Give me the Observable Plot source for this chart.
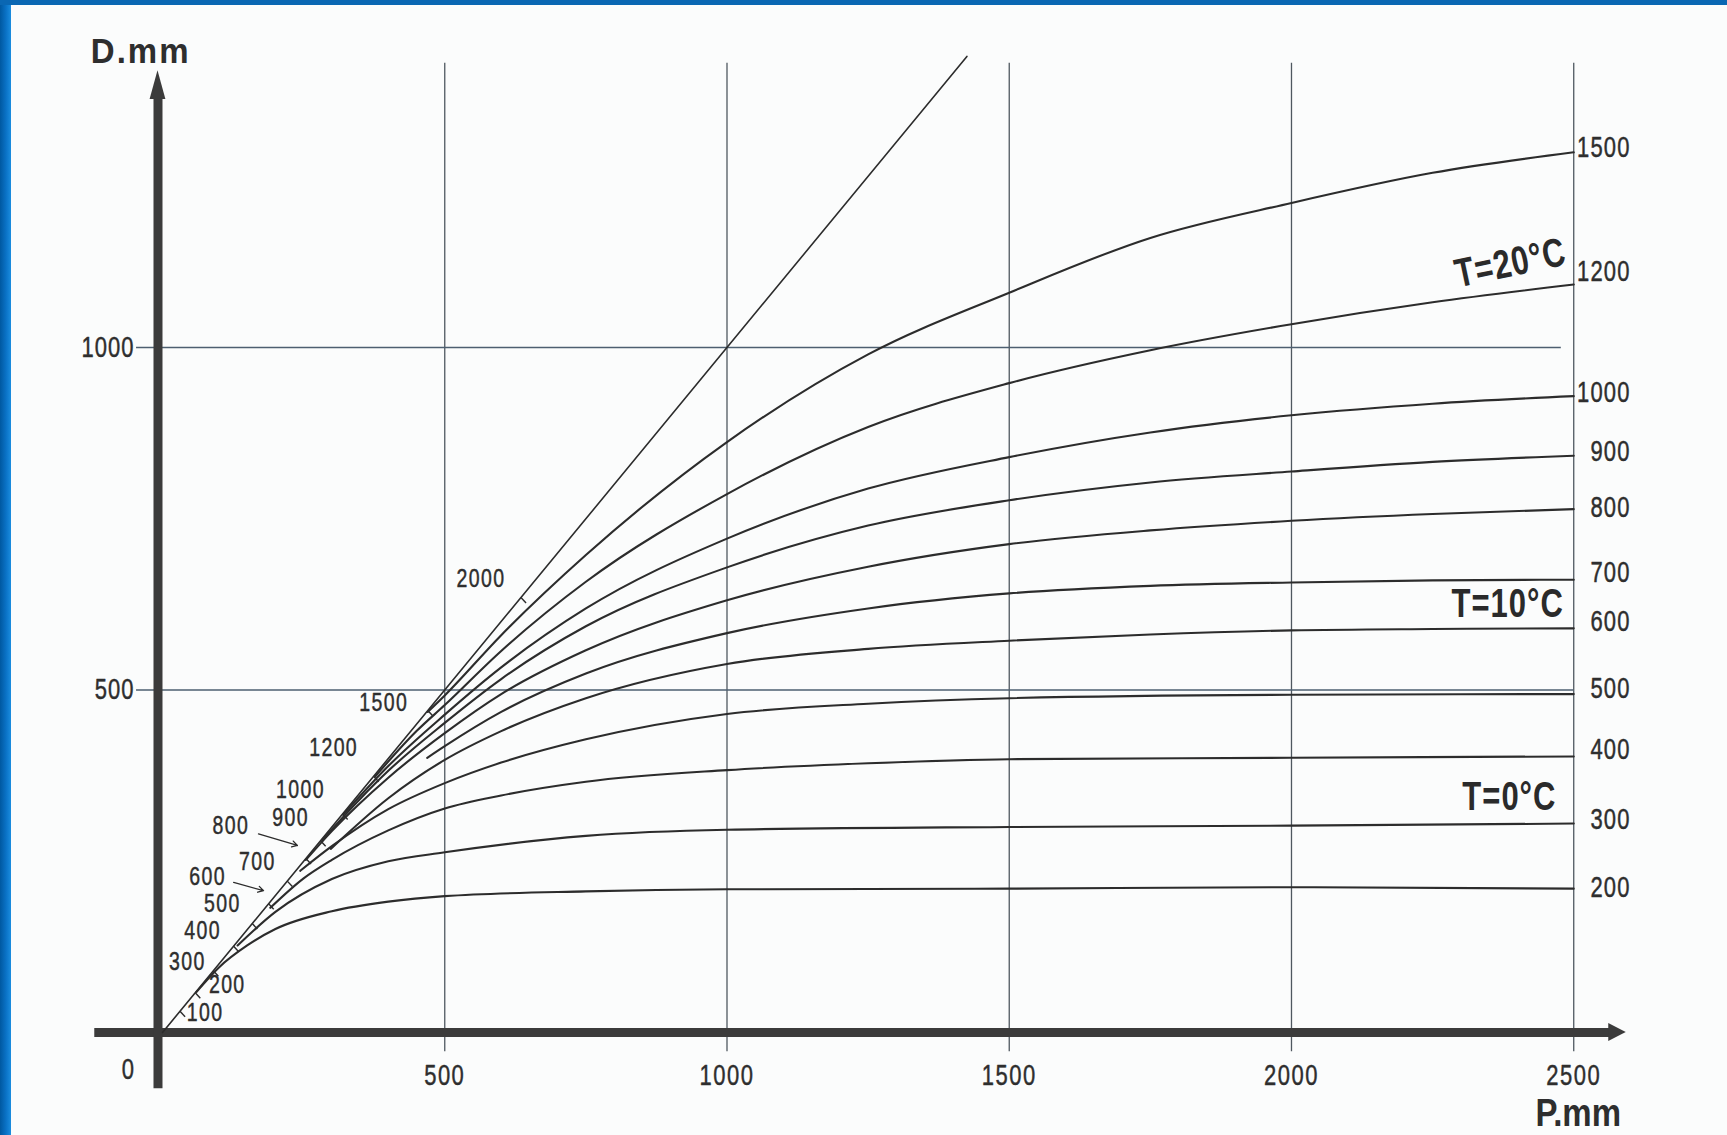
<!DOCTYPE html>
<html>
<head>
<meta charset="utf-8">
<script src="https://cdn.jsdelivr.net/npm/d3@7"></script>
<script src="https://cdn.jsdelivr.net/npm/@observablehq/plot@0.6"></script>
<style>
  html, body { margin: 0; padding: 0; background: #fbfcfc; }
  #wrap { position: relative; width: 1727px; height: 1135px; overflow: hidden; background: #fbfcfc; }
  #wrap svg { position: absolute; left: 0; top: 0; background: transparent; }
  #bl { position: absolute; left: 0; top: 0; width: 11px; height: 1135px; background: linear-gradient(to right, #0058a0, #0a72c6 55%, #1b8ddf); z-index: 2; }
  #bt { position: absolute; left: 0; top: 0; width: 1727px; height: 5px; background: #0a67b3; z-index: 2; }
</style>
</head>
<body>
<div id="wrap"><div id="bl"></div><div id="bt"></div></div>
<script>
// ---------- data ----------
const curveLabels = [200, 300, 400, 500, 600, 700, 800, 900, 1000, 1200, 1500];

const p200 = [60, 100, 150, 200, 300, 400, 500, 750, 1000, 1500, 2000, 2500];
const d200 = [59, 95, 127, 151, 177, 191, 199, 206, 209, 210, 212, 210];

const p300 = [133, 200, 300, 400, 500, 750, 1000, 1500, 2000, 2500];
const d300 = [127, 176, 224, 250, 263, 287, 296, 300, 302, 305];

const p400 = [191, 250, 300, 400, 500, 600, 750, 1000, 1250, 1500, 2000, 2500];
const d400 = [182, 225, 252, 295, 327, 346, 366, 383, 393, 399, 401, 403];

const p500 = [244, 300, 400, 500, 600, 750, 1000, 1250, 1500, 2000, 2500];
const d500 = [236, 272, 326, 364, 394, 428, 465, 480, 488, 493, 494];

const p600 = [298, 400, 500, 600, 750, 1000, 1250, 1500, 1750, 2000, 2250, 2500];
const d600 = [268, 342, 398, 440, 488, 538, 560, 572, 581, 587, 589, 590];

const p700 = [469, 500, 600, 750, 1000, 1250, 1500, 1750, 2000, 2250, 2500];
const d700 = [401, 418, 468, 524, 583, 619, 641, 652, 657, 660, 661];

const p800 = [254, 300, 400, 500, 600, 750, 1000, 1250, 1500, 1750, 2000, 2250, 2500];
const d800 = [252, 294, 372, 437, 494, 558, 631, 680, 713, 733, 747, 757, 764];

const p900 = [283, 350, 400, 500, 600, 750, 1000, 1250, 1500, 1750, 2000, 2250, 2500];
const d900 = [281, 341, 382, 452, 516, 593, 679, 740, 777, 803, 819, 833, 842];

const p1000 = [320, 400, 500, 600, 750, 1000, 1250, 1500, 1750, 2000, 2250, 2500];
const d1000 = [318, 389, 464, 533, 619, 721, 794, 840, 876, 901, 918, 929];

const p1200 = [377, 450, 500, 600, 750, 1000, 1250, 1500, 1750, 2000, 2250, 2500];
const d1200 = [374, 440, 478, 557, 658, 786, 884, 948, 996, 1034, 1066, 1092];

const p1500 = [470, 500, 600, 750, 1000, 1250, 1500, 1750, 2000, 2250, 2500];
const d1500 = [468, 492, 580, 697, 862, 990, 1080, 1160, 1211, 1255, 1285];

const diagonalP = [0, 1425];                       // D = P line
const diagTickLabels = ["100", "200", "300", "400", "500", "600", "700", "800", "900", "1000", "1200", "1500", "2000"];
const diagTickP = [31, 58, 90, 126, 159, 188, 221, 254, 280, 319, 374, 470, 635];

const xTickValues = [0, 500, 1000, 1500, 2000, 2500];
const yTickValues = [500, 1000];
const tempLabels = ["T=20°C", "T=10°C", "T=0°C"];
const xTitle = "P.mm";
const yTitle = "D.mm";

// ---------- layout (pixels / extents) ----------
const W = 1727, H = 1135;
const xDomain = [-287, 2772.4], yDomain = [-150.4, 1506.6];
const kx = W / (xDomain[1] - xDomain[0]);   // px per mm (x)
const ky = H / (yDomain[1] - yDomain[0]);   // px per mm (y)
const px2x = (dx) => dx / kx;
const px2y = (dy) => -dy / ky;

const curveEndLabelShift = [1, 6, 10, 8, 9, 10, 2, 5, 5, 19, 7];     // in mm, per curve label
const diagLabelOffsetPx = [[25, 2], [32, -8], [-26, -9], [-31, -15], [-30, -20], [-61, -27], [-30, -19],
                           [-75, -33], [-30, -23], [-42, -24], [-40, -28], [-44, -8], [-40, -19]];
const leaderIdx = [5, 7];  // "600" and "800" have small arrows
const leaderOffsets = [[-62, 31, -9, 19], [-84, 36, -15, 19]];
const tempPos = [[2388, 1123, -12], [2383, 625, 0], [2386, 343, 0]];

// ---------- build tables ----------
const curveP = [p200, p300, p400, p500, p600, p700, p800, p900, p1000, p1200, p1500];
const curveD = [d200, d300, d400, d500, d600, d700, d800, d900, d1000, d1200, d1500];
const curveRows = curveLabels.flatMap((L, i) => curveP[i].map((p, j) => ({L, P: p, D: curveD[i][j]})));
const endRows = curveLabels.map((L, i) => ({L, P: curveP[i][curveP[i].length - 1], D: curveD[i][curveD[i].length - 1] + curveEndLabelShift[i]}));
const diagRows = diagonalP.map(p => ({P: p, D: p}));
const tickRows = diagTickP.map((p, i) => ({p, label: diagTickLabels[i],
  lx: p + px2x(diagLabelOffsetPx[i][0]), ly: p + px2y(diagLabelOffsetPx[i][1])}));
const leaderRows = leaderIdx.map((k, i) => {
  const p = diagTickP[k], o = leaderOffsets[i];
  return {x1: p + o[0], y1: p + o[1], x2: p + o[2], y2: p + o[3]};
});
const tempRows = tempLabels.map((t, i) => ({t, x: tempPos[i][0], y: tempPos[i][1], r: tempPos[i][2]}));
const xLabelRows = xTickValues.map(v => ({v, x: v === 0 ? -60 : v, y: v === 0 ? -55 : -64}));

const ink = "#2c2c2c", grid = "#4f5860", txt = "#2e2e2e";
const FF = "Liberation Sans, Arial, sans-serif";
const numFont = {fontFamily: FF, fontSize: 22, fill: txt, stroke: txt, strokeWidth: 0.35};

const svg = Plot.plot({
  width: W, height: H,
  marginTop: 0, marginRight: 0, marginBottom: 0, marginLeft: 0,
  x: {domain: xDomain, axis: null},
  y: {domain: yDomain, axis: null},
  style: {background: "transparent"},
  marks: [
    // grid
    Plot.ruleX(xTickValues.filter(v => v > 0), {y1: -28, y2: 1415, stroke: grid, strokeWidth: 1.3}),
    Plot.ruleY(yTickValues, {x1: -46, x2: (d) => d === 1000 ? 2478 : 2500, stroke: "#4d5f70", strokeWidth: 1.3}),
    // axes
    Plot.ruleY([0], {x1: -120, x2: 2570, stroke: "#3b3b3b", strokeWidth: 9}),
    Plot.ruleX([-8], {y1: -82, y2: 1372, stroke: "#3b3b3b", strokeWidth: 9}),
    Plot.areaY([{x: 2562, a: -13, b: 13}, {x: 2593, a: 0, b: 0}], {x: "x", y1: "a", y2: "b", fill: "#3b3b3b"}),
    Plot.areaX([{y: 1362, a: -8 - 14, b: -8 + 14}, {y: 1404, a: -8, b: -8}], {y: "y", x1: "a", x2: "b", fill: "#3b3b3b"}),
    // diagonal D = P
    Plot.line(diagRows, {x: "P", y: "D", stroke: ink, strokeWidth: 1.6}),
    Plot.link(tickRows, {x1: "p", y1: "p", x2: (d) => d.p + 9, y2: (d) => d.p - 8, stroke: ink, strokeWidth: 1.4}),
    Plot.arrow(leaderRows, {x1: "x1", y1: "y1", x2: "x2", y2: "y2", stroke: ink, strokeWidth: 1.3, headLength: 7}),
    // curves
    Plot.line(curveRows, {x: "P", y: "D", z: "L", curve: "monotone-x", stroke: ink, strokeWidth: 2.1}),
    // labels
    Plot.text(tickRows, {x: "lx", y: "ly", text: "label", ...numFont, fontSize: 19.5, ariaDescription: "diaglabels"}),
    Plot.text(endRows, {x: "P", y: "D", text: (d) => String(d.L), textAnchor: "end", dx: 57, ...numFont, ariaDescription: "endlabels"}),
    Plot.text(yTickValues, {x: -46, y: (d) => d, text: (d) => String(d), textAnchor: "end", dx: -2, ...numFont, ariaDescription: "ylabels"}),
    Plot.text(xLabelRows, {x: "x", y: "y", text: (d) => String(d.v), ...numFont, ariaDescription: "xlabels"}),
    Plot.text(tempRows, {x: "x", y: "y", text: "t", rotate: (d) => d.r, fontFamily: FF, fontWeight: "bold", fontSize: 31, fill: "#2a2a2a", ariaDescription: "templabels"}),
    Plot.text([yTitle], {x: -127, y: 1431, text: (d) => d, textAnchor: "start", fontFamily: FF, fontWeight: "bold", fontSize: 33, fill: "#2e2e2e", ariaDescription: "ytitle"}),
    Plot.text([xTitle], {x: 2508, y: -118, text: (d) => d, fontFamily: FF, fontWeight: "bold", fontSize: 33, fill: "#2e2e2e", ariaDescription: "xtitle"})
  ]
});

// vertical stretch of the scanned lettering
function stretch(label, sx, sy, ls) {
  svg.querySelectorAll(`g[aria-description="${label}"] text`).forEach(t => {
    let tr = t.getAttribute("transform");
    if (!tr) {
      const x = t.getAttribute("x") || 0, y = t.getAttribute("y") || 0;
      t.removeAttribute("x"); t.removeAttribute("y");
      tr = `translate(${x},${y})`;
    }
    t.setAttribute("transform", `${tr} scale(${sx},${sy})`);
    if (ls) t.style.letterSpacing = ls + "px";
  });
}
stretch("diaglabels", 1, 1.3, 1.4);
stretch("endlabels", 1, 1.3, 1.2);
stretch("ylabels", 1, 1.3, 1.0);
stretch("xlabels", 1, 1.3, 1.5);
stretch("templabels", 1, 1.3, 1);
stretch("ytitle", 1, 1.05, 2);
stretch("xtitle", 1, 1.2, 0);

document.getElementById("wrap").appendChild(svg);
</script>
</body>
</html>
